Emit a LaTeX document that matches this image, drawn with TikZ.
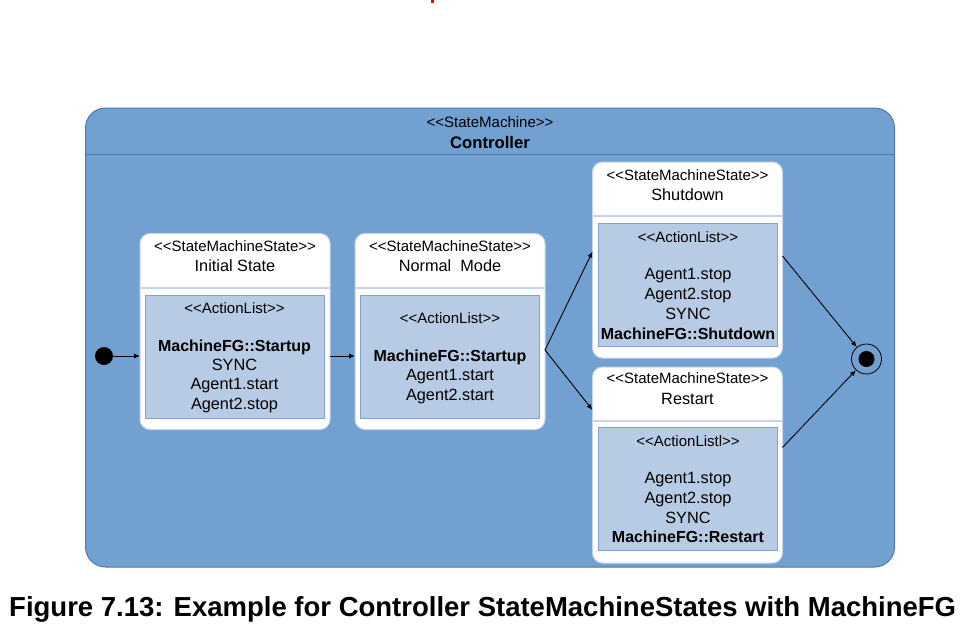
\documentclass[tikz,border=0pt]{standalone}
\usepackage{fontspec}
\newfontfamily\lsans{Liberation Sans}
\usetikzlibrary{arrows.meta,calc}
\definecolor{outerfill}{RGB}{114,160,209}
\definecolor{outerline}{RGB}{78,120,172}
\definecolor{actfill}{RGB}{184,203,228}
\definecolor{actline}{RGB}{128,162,208}
\definecolor{divline}{RGB}{196,213,236}
\begin{document}
\begin{tikzpicture}[x=1pt,y=-1pt,
  statebox/.style={draw=divline, line width=1pt, fill=white, rounded corners=10pt,
    minimum width=190pt, minimum height=196pt, inner sep=0pt, outer sep=0pt},
  actbox/.style={draw=actline, line width=1pt, fill=actfill,
    minimum width=179pt, minimum height=123pt, inner sep=0pt},
  stereo/.style={font=\lsans\fontsize{15}{18}\selectfont, inner sep=0pt, anchor=base},
  txt/.style={font=\lsans\fontsize{16.3}{19}\selectfont, inner sep=0pt, anchor=base},
  btxt/.style={font=\lsans\bfseries\fontsize{16}{19}\selectfont, inner sep=0pt, anchor=base},
  divider/.style={draw=divline, line width=1.6pt},
  trans/.style={draw=black, line width=0.9pt, -{Latex[length=6pt,width=5pt]}},
]
\useasboundingbox (0,0) rectangle (975,643);
\fill[white] (0,0) rectangle (975,643);
\fill[red] (431,0) rectangle (434,3);

% outer state machine
\node[draw=outerline, line width=1pt, fill=outerfill, rounded corners=20pt,
  minimum width=809pt, minimum height=459pt, inner sep=0pt] (ctrl) at (490,337.5) {};
\draw[outerline, line width=1pt] (85.5,154.5) -- (893.5,154.5);
\node[stereo] (ctrlst) at (490,127) {<<StateMachine>>};
\node[btxt, font=\lsans\bfseries\fontsize{16.7}{19}\selectfont] (ctrlnm) at (490,148) {Controller};

% Initial State
\node[statebox] (s1) at (235,331.5) {};
\draw[divider] (140.5,288) -- (329.5,288);
\node[actbox] (a1) at (234.5,356.5) {};
\node[stereo] (s1st) at (235,251) {<<StateMachineState>>};
\node[txt] (s1nm) at (235,271) {Initial State};
\node[stereo] (a1st) at (234.5,313) {<<ActionList>>};
\node[btxt] (a1l1) at (234.5,351) {MachineFG::Startup};
\node[txt] (a1l2) at (234.5,370) {SYNC};
\node[txt] (a1l3) at (234.5,389.5) {Agent1.start};
\node[txt] (a1l4) at (234.5,409) {Agent2.stop};

% Normal Mode
\node[statebox] (s2) at (450,331.5) {};
\draw[divider] (355.5,288) -- (544.5,288);
\node[actbox] (a2) at (450,356.5) {};
\node[stereo] (s2st) at (450,251) {<<StateMachineState>>};
\node[txt] (s2nm) at (450,271) {Normal\ \ Mode};
\node[stereo] (a2st) at (450,323) {<<ActionList>>};
\node[btxt] (a2l1) at (450,361) {MachineFG::Startup};
\node[txt] (a2l2) at (450,380.5) {Agent1.start};
\node[txt] (a2l3) at (450,400) {Agent2.start};

% Shutdown
\node[statebox] (s3) at (687.5,260) {};
\draw[divider] (592.5,216) -- (782.5,216);
\node[actbox] (a3) at (688,285.2) {};
\node[stereo] (s3st) at (687.5,180.5) {<<StateMachineState>>};
\node[txt] (s3nm) at (687.5,200) {Shutdown};
\node[stereo] (a3st) at (688,242) {<<ActionList>>};
\node[txt] (a3l1) at (688,279) {Agent1.stop};
\node[txt] (a3l2) at (688,299) {Agent2.stop};
\node[txt] (a3l3) at (688,319) {SYNC};
\node[btxt] (a3l4) at (688,339) {MachineFG::Shutdown};

% Restart
\node[statebox] (s4) at (687.5,465) {};
\draw[divider] (592.5,421) -- (782.5,421);
\node[actbox] (a4) at (688,488.7) {};
\node[stereo] (s4st) at (687.5,383.5) {<<StateMachineState>>};
\node[txt] (s4nm) at (687.5,404) {Restart};
\node[stereo] (a4st) at (688,446) {<<ActionListl>>};
\node[txt] (a4l1) at (688,483) {Agent1.stop};
\node[txt] (a4l2) at (688,503) {Agent2.stop};
\node[txt] (a4l3) at (688,523) {SYNC};
\node[btxt] (a4l4) at (688,542) {MachineFG::Restart};

% pseudo states
\node[circle, fill=black, minimum size=18pt, inner sep=0pt] (init) at (104,356) {};
\node[circle, draw=black, line width=0.8pt, fill=outerfill, minimum size=30pt, inner sep=0pt] (final) at (866.5,359) {};
\node[circle, fill=black, minimum size=16pt, inner sep=0pt] (finalin) at (866.5,359) {};

% anchor points on the state borders
\coordinate (s1in)  at (s1.west |- init);
\coordinate (s1out) at (s1.east |- init);
\coordinate (s2in)  at (s2.west |- init);
\coordinate (s2out) at ([yshift=-18.5pt]s2.east);
\coordinate (s3in)  at ([yshift=8.5pt]s3.west);
\coordinate (s3out) at ([yshift=4pt]s3.east);
\coordinate (s4in)  at ([yshift=55pt]s4.west);
\coordinate (s4out) at ([yshift=17.5pt]s4.east);

% transitions
\draw[trans] (init) -- (s1in);
\draw[trans] (s1out) -- (s2in);
\draw[trans] (s2out) -- (s3in);
\draw[trans] (s2out) -- (s4in);
\draw[trans] (s3out) -- (final);
\draw[trans] (s4out) -- (final);

% caption
\node[font=\lsans\bfseries\fontsize{27.5}{32}\selectfont, inner sep=0pt, anchor=base west] (caption) at (9,616.5)
  {Figure 7.13: Example for Controller StateMachineStates with MachineFG};
\end{tikzpicture}
\end{document}
